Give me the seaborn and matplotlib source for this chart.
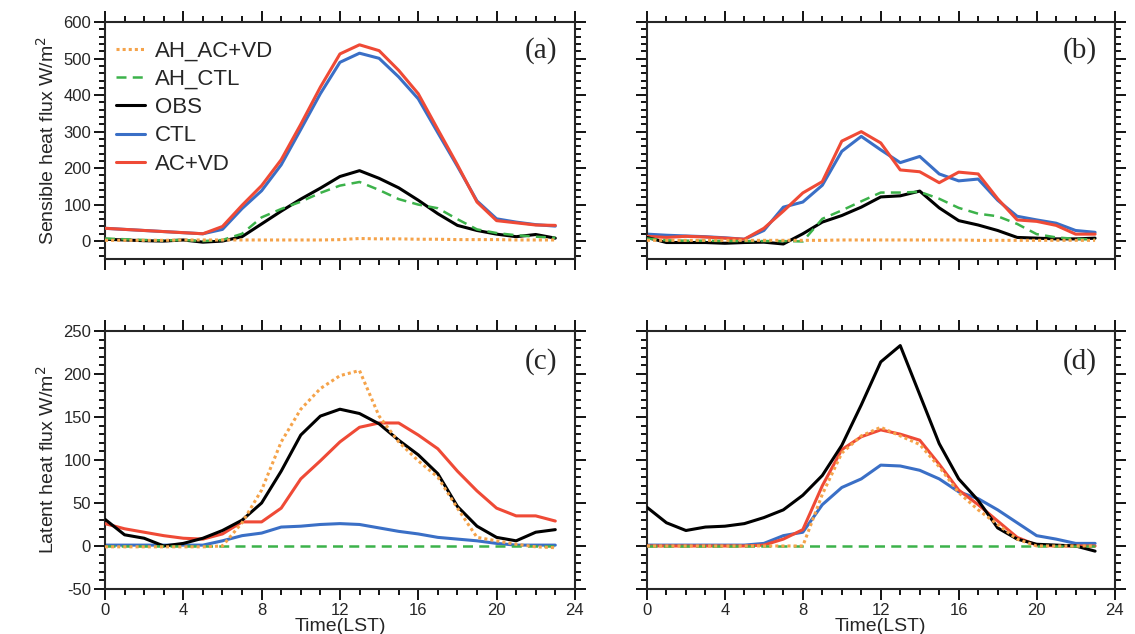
import matplotlib
matplotlib.use('Agg')
import matplotlib.pyplot as plt
from matplotlib.ticker import MultipleLocator
import numpy as np
import pandas as pd
import seaborn as sns

hours = list(range(24))
series_names = ['AH_AC+VD', 'AH_CTL', 'OBS', 'CTL', 'AC+VD']

# (a) sensible heat flux, site 1
sh_a_ahacvd = [2, 2, 2, 2, 3, 3, 3, 3, 3, 3, 3, 3, 4, 7, 6, 6, 5, 5, 4, 4, 4, 3, 3, 3]
sh_a_ahctl = [7, 5, 3, 2, 3, 0, 3, 20, 65, 88, 108, 132, 152, 162, 140, 115, 100, 90, 60, 32, 22, 16, 12, 9]
sh_a_obs = [5, 3, 1, 0, 3, -3, 0, 12, 47, 82, 115, 145, 177, 193, 172, 146, 112, 75, 43, 29, 19, 12, 18, 8]
sh_a_ctl = [35, 32, 29, 26, 23, 20, 32, 89, 138, 209, 306, 404, 490, 515, 501, 450, 390, 297, 205, 110, 61, 52, 45, 41]
sh_a_acvd = [35, 32, 29, 26, 23, 20, 40, 98, 152, 223, 320, 422, 513, 538, 522, 468, 404, 306, 209, 107, 56, 50, 44, 43]

# (b) sensible heat flux, site 2
sh_b_ahacvd = [2, 2, 2, 2, 2, 2, 2, 2, 2, 2, 3, 3, 3, 3, 3, 3, 3, 2, 2, 2, 2, 2, 2, 2]
sh_b_ahctl = [7, 2, 1, 1, 0, 0, 0, 0, -1, 61, 84, 109, 133, 133, 135, 116, 91, 75, 68, 47, 19, 10, 6, 4]
sh_b_obs = [10, -4, -4, -4, -6, -4, -3, -8, 20, 52, 70, 93, 121, 124, 137, 91, 56, 44, 29, 10, 8, 6, 6, 8]
sh_b_ctl = [19, 16, 14, 12, 9, 5, 29, 93, 107, 153, 246, 287, 250, 215, 232, 184, 165, 170, 112, 68, 58, 49, 29, 24]
sh_b_acvd = [13, 10, 13, 11, 8, 5, 35, 82, 132, 163, 274, 300, 269, 195, 190, 160, 189, 184, 116, 58, 54, 43, 19, 19]

# (c) latent heat flux, site 1
lh_c_ahacvd = [-1, -1, -1, -1, -1, -1, 0, 27, 65, 121, 159, 183, 198, 204, 151, 121, 99, 80, 44, 10, 6, 2, -1, -2]
lh_c_ahctl = [0] * 24
lh_c_obs = [31, 13, 9, 0, 3, 9, 18, 30, 50, 87, 129, 151, 159, 154, 142, 123, 106, 84, 46, 23, 10, 6, 16, 19]
lh_c_ctl = [1, 1, 1, 1, 1, 1, 6, 12, 15, 22, 23, 25, 26, 25, 21, 17, 14, 10, 8, 6, 3, 1, 1, 1]
lh_c_acvd = [26, 20, 16, 12, 9, 8, 14, 28, 28, 44, 78, 99, 121, 138, 143, 143, 129, 113, 87, 64, 44, 35, 35, 29]

# (d) latent heat flux, site 2
lh_d_ahacvd = [0, 0, 0, 0, 0, 0, 0, 0, 0, 60, 108, 128, 138, 128, 118, 92, 62, 42, 25, 8, 0, 0, 0, 0]
lh_d_ahctl = [0] * 24
lh_d_obs = [45, 27, 18, 22, 23, 26, 33, 42, 59, 82, 117, 164, 214, 233, 176, 119, 78, 53, 21, 8, 2, 1, 0, -6]
lh_d_ctl = [1, 1, 1, 1, 1, 1, 3, 12, 16, 48, 68, 78, 94, 93, 88, 78, 63, 55, 42, 27, 12, 8, 3, 3]
lh_d_acvd = [0, 0, 0, 0, 0, 0, 1, 8, 19, 70, 112, 127, 135, 130, 123, 95, 65, 48, 29, 10, 1, 0, 0, 0]

panels = {
    '(a)': [sh_a_ahacvd, sh_a_ahctl, sh_a_obs, sh_a_ctl, sh_a_acvd],
    '(b)': [sh_b_ahacvd, sh_b_ahctl, sh_b_obs, sh_b_ctl, sh_b_acvd],
    '(c)': [lh_c_ahacvd, lh_c_ahctl, lh_c_obs, lh_c_ctl, lh_c_acvd],
    '(d)': [lh_d_ahacvd, lh_d_ahctl, lh_d_obs, lh_d_ctl, lh_d_acvd],
}

colors = ['#f5a34a', '#3cb24a', '#000000', '#3a6fc6', '#ef4a36']
styles = [(0, (1, 1)), (0, (4, 2.5)), '-', '-', '-']
widths = [2.2, 1.8, 2.2, 2.2, 2.2]
zorders = [6, 5, 4, 2, 3]

sns.set_style('ticks')
plt.rcParams['font.family'] = ['Liberation Sans', 'DejaVu Sans']
plt.rcParams['axes.unicode_minus'] = False

fig = plt.figure(figsize=(11.35, 6.34), dpi=100)
boxes = {
    '(a)': [0.0925, 0.591, 0.414, 0.374],
    '(b)': [0.570, 0.591, 0.412, 0.374],
    '(c)': [0.0925, 0.071, 0.414, 0.407],
    '(d)': [0.570, 0.071, 0.412, 0.407],
}

for label, vals in panels.items():
    ax = fig.add_axes(boxes[label])
    df = pd.DataFrame(dict(zip(series_names, vals)))
    df['hour'] = hours
    for i, name in enumerate(series_names):
        sns.lineplot(data=df, x='hour', y=name, ax=ax, color=colors[i],
                     linestyle=styles[i], linewidth=widths[i], zorder=zorders[i],
                     label=name)
    ax.set_xlim(0, 24)
    ax.xaxis.set_major_locator(MultipleLocator(4))
    ax.xaxis.set_minor_locator(MultipleLocator(1))
    if label in ('(a)', '(b)'):
        ax.set_ylim(-50, 600)
        ax.yaxis.set_major_locator(MultipleLocator(100))
        ax.yaxis.set_minor_locator(MultipleLocator(20))
    else:
        ax.set_ylim(-50, 250)
        ax.yaxis.set_major_locator(MultipleLocator(50))
        ax.yaxis.set_minor_locator(MultipleLocator(10))
    for s in ax.spines.values():
        s.set_visible(True)
        s.set_linewidth(1.5)
    ax.tick_params(which='both', direction='out', top=True, right=True,
                   width=1.3, labelsize=12, color='black', pad=2)
    ax.tick_params(which='major', length=8)
    ax.tick_params(which='minor', length=4)
    ax.set_xlabel('')
    ax.set_ylabel('')
    if label in ('(a)', '(b)'):
        ax.tick_params(labelbottom=False)
    else:
        ax.set_xlabel('Time(LST)', fontsize=14, labelpad=0)
    if label in ('(b)', '(d)'):
        ax.tick_params(labelleft=False)
    ax.text(0.962, 0.88, label, transform=ax.transAxes, ha='right', va='center',
            fontsize=21, family='Liberation Serif')
    if label == '(a)':
        ax.legend(loc='upper left', frameon=False, fontsize=16, handlelength=1.3,
                  handletextpad=0.45, labelspacing=0.33, borderaxespad=0.1,
                  bbox_to_anchor=(0.0, 0.97))
        ax.set_ylabel('Sensible heat flux W/m$^2$', fontsize=14, labelpad=4)
    else:
        ax.get_legend().remove()
    if label == '(c)':
        ax.set_ylabel('Latent heat flux W/m$^2$', fontsize=14, labelpad=4)

fig.savefig('out.png', dpi=100)
